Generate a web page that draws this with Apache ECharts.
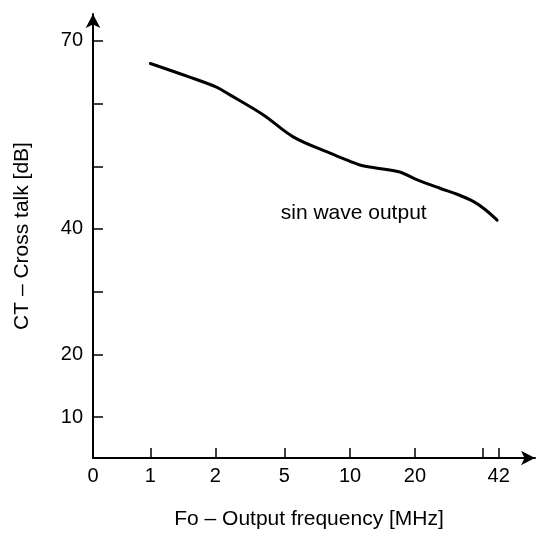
<!DOCTYPE html>
<html><head><meta charset="utf-8">
<script src="https://cdn.jsdelivr.net/npm/echarts@6/dist/echarts.min.js"></script>
<style>html,body{margin:0;padding:0;background:#fff}#c{width:541px;height:535px}</style>
</head><body><div id="c"></div>
<script>
// X axis is a hand-drawn pseudo-log scale: tick frequencies and their axis positions
const xTickValues = [0, 1, 2, 5, 10, 20, 40, 42];
const xTickLabels = ['0', '1', '2', '5', '10', '20', '', '42'];
const xTickPos = [0, 0.862, 1.839, 2.877, 3.865, 4.842, 5.860, 6.101];
const yTickValues = [10, 20, 30, 40, 50, 60, 70];
const yTickLabels = [10, 20, 40, 70];
// Cross talk curve (frequency in MHz, CT in dB)
const curveFreq = [1.0, 1.5, 2.0, 2.43, 3.79, 5.49, 8.1, 10, 11.1, 12.8, 17.0, 20, 25.8, 31.0, 36.3, 40.3, 41.8];
const curveDb   = [66.4, 64.3, 62.7, 61.4, 58.2, 54.7, 52.1, 50.8, 50.2, 49.8, 49.1, 48.0, 46.5, 45.5, 44.4, 43.1, 41.4];
const annotationText = 'sin wave output';
const annotationFreq = 10.4;
const annotationDb = 42.5;

function freqToPos(f) {
  for (let i = 0; i < xTickValues.length - 1; i++) {
    const a = xTickValues[i], b = xTickValues[i + 1];
    if (f >= a && f <= b) {
      const t = a <= 0 ? (f - a) / (b - a) : Math.log(f / a) / Math.log(b / a);
      return xTickPos[i] + t * (xTickPos[i + 1] - xTickPos[i]);
    }
  }
  return xTickPos[xTickPos.length - 1];
}
function posToLabel(v) {
  let best = 0, d = Infinity;
  xTickPos.forEach((p, i) => { if (Math.abs(p - v) < d) { d = Math.abs(p - v); best = i; } });
  return xTickLabels[best];
}

const FONT = '"Liberation Sans", Arial, sans-serif';
const chart = echarts.init(document.getElementById('c'), null, {renderer: 'canvas'});
const labelPos = xTickPos.filter((p, i) => xTickLabels[i] !== '');

chart.setOption({
  animation: false,
  backgroundColor: '#fff',
  grid: {left: 93, right: 6, top: 14, bottom: 77, containLabel: false, outerBoundsMode: 'none'},
  xAxis: {
    type: 'value', min: 0, max: 6.647,
    name: 'Fo – Output frequency [MHz]', nameLocation: 'middle', nameGap: 51,
    nameTextStyle: {fontSize: 21, color: '#000', fontFamily: FONT, padding: [0, 10, 0, 0]},
    axisLine: {show: true, symbol: ['none', 'arrow'], symbolSize: [11, 14], lineStyle: {color: '#000', width: 2}},
    axisTick: {show: true, inside: true, length: 10, customValues: xTickPos, lineStyle: {color: '#000', width: 1.5}},
    axisLabel: {show: true, customValues: labelPos, formatter: v => posToLabel(v), fontSize: 20, color: '#000', fontFamily: FONT, margin: 8},
    splitLine: {show: false}
  },
  yAxis: {
    type: 'value', min: 3.46, max: 74.3,
    name: 'CT – Cross talk [dB]', nameLocation: 'middle', nameGap: 60,
    nameTextStyle: {fontSize: 21, color: '#000', fontFamily: FONT},
    axisLine: {show: true, symbol: ['none', 'arrow'], symbolSize: [11, 14], lineStyle: {color: '#000', width: 2}},
    axisTick: {show: true, inside: true, length: 10, customValues: yTickValues, lineStyle: {color: '#000', width: 1.5}},
    axisLabel: {show: true, customValues: yTickLabels, fontSize: 20, color: '#000', fontFamily: FONT, margin: 10},
    splitLine: {show: false}
  },
  series: [{
    type: 'line',
    data: curveFreq.map((f, i) => [freqToPos(f), curveDb[i]]),
    smooth: 0.35,
    showSymbol: false,
    lineStyle: {color: '#000', width: 3, join: 'round', cap: 'round'},
    markPoint: {
      symbol: 'circle', symbolSize: 0,
      data: [{coord: [freqToPos(annotationFreq), annotationDb]}],
      label: {show: true, position: 'inside', formatter: annotationText, fontSize: 21, color: '#000', fontFamily: FONT}
    }
  }]
});
</script></body></html>
